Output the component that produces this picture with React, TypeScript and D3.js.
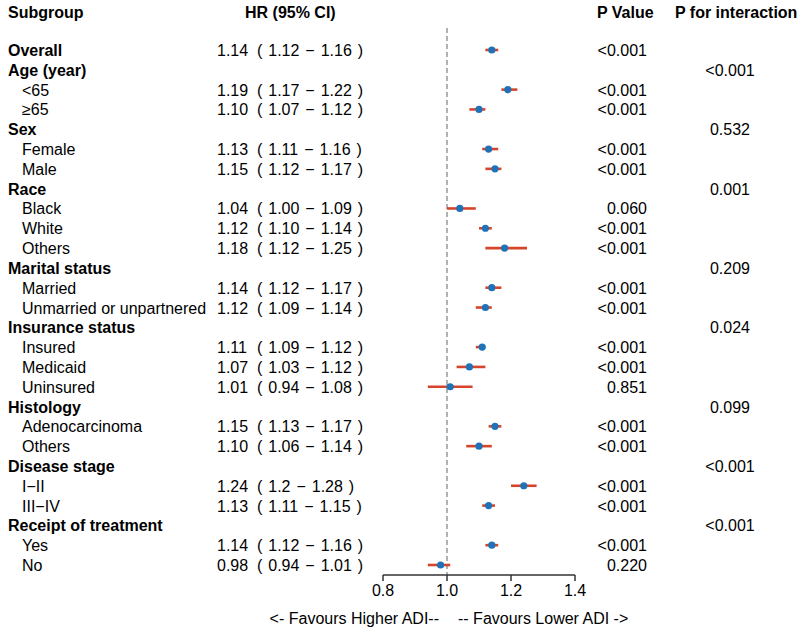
import React from "react";
import * as d3 from "d3";

const subgroups: string[] = [
  "Overall", "Age (year)", "<65", "≥65", "Sex", "Female", "Male", "Race", "Black", "White", "Others",
  "Marital status", "Married", "Unmarried or unpartnered", "Insurance status", "Insured", "Medicaid", "Uninsured",
  "Histology", "Adenocarcinoma", "Others", "Disease stage", "I−II", "III−IV", "Receipt of treatment", "Yes", "No",
];
const isGroup: boolean[] = [
  true, true, false, false, true, false, false, true, false, false, false,
  true, false, false, true, false, false, false,
  true, false, false, true, false, false, true, false, false,
];
const hrValues: (number | null)[] = [
  1.14, null, 1.19, 1.10, null, 1.13, 1.15, null, 1.04, 1.12, 1.18,
  null, 1.14, 1.12, null, 1.11, 1.07, 1.01,
  null, 1.15, 1.10, null, 1.24, 1.13, null, 1.14, 0.98,
];
const ciLower: (number | null)[] = [
  1.12, null, 1.17, 1.07, null, 1.11, 1.12, null, 1.00, 1.10, 1.12,
  null, 1.12, 1.09, null, 1.09, 1.03, 0.94,
  null, 1.13, 1.06, null, 1.2, 1.11, null, 1.12, 0.94,
];
const ciUpper: (number | null)[] = [
  1.16, null, 1.22, 1.12, null, 1.16, 1.17, null, 1.09, 1.14, 1.25,
  null, 1.17, 1.14, null, 1.12, 1.12, 1.08,
  null, 1.17, 1.14, null, 1.28, 1.15, null, 1.16, 1.01,
];
const hrText: string[] = [
  "1.14", "", "1.19", "1.10", "", "1.13", "1.15", "", "1.04", "1.12", "1.18",
  "", "1.14", "1.12", "", "1.11", "1.07", "1.01",
  "", "1.15", "1.10", "", "1.24", "1.13", "", "1.14", "0.98",
];
const ciText: string[] = [
  "( 1.12 − 1.16 )", "", "( 1.17 − 1.22 )", "( 1.07 − 1.12 )", "", "( 1.11 − 1.16 )", "( 1.12 − 1.17 )", "",
  "( 1.00 − 1.09 )", "( 1.10 − 1.14 )", "( 1.12 − 1.25 )", "", "( 1.12 − 1.17 )", "( 1.09 − 1.14 )", "",
  "( 1.09 − 1.12 )", "( 1.03 − 1.12 )", "( 0.94 − 1.08 )", "", "( 1.13 − 1.17 )", "( 1.06 − 1.14 )", "",
  "( 1.2 − 1.28 )", "( 1.11 − 1.15 )", "", "( 1.12 − 1.16 )", "( 0.94 − 1.01 )",
];
const pValues: string[] = [
  "<0.001", "", "<0.001", "<0.001", "", "<0.001", "<0.001", "", "0.060", "<0.001", "<0.001",
  "", "<0.001", "<0.001", "", "<0.001", "<0.001", "0.851",
  "", "<0.001", "<0.001", "", "<0.001", "<0.001", "", "<0.001", "0.220",
];
const pInteraction: string[] = [
  "", "<0.001", "", "", "0.532", "", "", "0.001", "", "", "",
  "0.209", "", "", "0.024", "", "", "",
  "0.099", "", "", "<0.001", "", "", "<0.001", "", "",
];
const xTicks: number[] = [0.8, 1.0, 1.2, 1.4];

const FONT = "'Liberation Sans', Arial, Helvetica, sans-serif";
const RED = "#d6452b";
const BLUE = "#1f71b8";

export default function App() {
  const x = d3.scaleLinear().domain([0.8, 1.4]).range([383, 575]);
  const y = d3.scaleLinear().domain([0, subgroups.length - 1]).range([50, 565]);
  const axisY = 575;
  const fmt = d3.format(".1f");

  return (
    <svg
      width={800}
      height={629}
      style={{ position: "absolute", left: 0, top: 0, background: "#fff" }}
      fontFamily={FONT}
      fontSize={16}
    >
      <rect width={800} height={629} fill="#fff" />
      <g fontWeight="bold" fill="#000">
        <text x={8} y={17.5}>Subgroup</text>
        <text x={245} y={17.5}>HR (95% CI)</text>
        <text x={597} y={17.5}>P Value</text>
        <text x={675} y={17.5}>P for interaction</text>
      </g>

      <line x1={x(1)} x2={x(1)} y1={28} y2={axisY} stroke="#888" strokeWidth={1.3} strokeDasharray="5,3" />

      {subgroups.map((s, i) => {
        const yy = y(i);
        const h = hrValues[i];
        const lo = ciLower[i];
        const hi = ciUpper[i];
        return (
          <g key={i}>
            <text x={isGroup[i] ? 8 : 22} y={yy + 6} fontWeight={isGroup[i] ? "bold" : "normal"}>
              {s}
            </text>
            {hrText[i] && <text x={217} y={yy + 6}>{hrText[i]}</text>}
            {ciText[i] && <text x={257} y={yy + 6} wordSpacing={1.5}>{ciText[i]}</text>}
            {pValues[i] && <text x={647} y={yy + 6} textAnchor="end">{pValues[i]}</text>}
            {pInteraction[i] && <text x={730} y={yy + 6} textAnchor="middle">{pInteraction[i]}</text>}
            {h !== null && lo !== null && hi !== null && (
              <g>
                <line x1={x(lo)} x2={x(hi)} y1={yy} y2={yy} stroke={RED} strokeWidth={2.6} />
                <circle cx={x(h)} cy={yy} r={3.6} fill={BLUE} />
              </g>
            )}
          </g>
        );
      })}

      <line x1={x(0.8)} x2={x(1.4)} y1={axisY} y2={axisY} stroke="#333" strokeWidth={1.5} />
      {xTicks.map((t) => (
        <g key={t}>
          <line x1={x(t)} x2={x(t)} y1={axisY} y2={axisY + 6} stroke="#333" strokeWidth={1.5} />
          <text x={x(t)} y={596} textAnchor="middle">{fmt(t)}</text>
        </g>
      ))}
      <text x={439} y={624} textAnchor="end">{"<- Favours Higher ADI--"}</text>
      <text x={458} y={624}>{"-- Favours Lower ADI ->"}</text>
    </svg>
  );
}
